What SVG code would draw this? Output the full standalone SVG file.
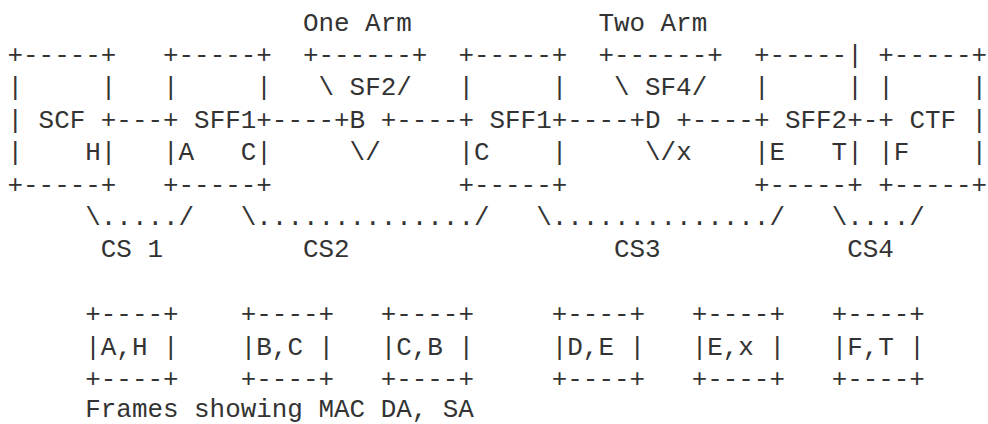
<svg xmlns="http://www.w3.org/2000/svg" width="988" height="424" viewBox="0 0 988 424" xml:space="preserve">
<style>
text{font-family:"Liberation Mono","DejaVu Sans Mono",monospace;font-size:25.92px;fill:#333333;white-space:pre}
</style>
<rect x="0" y="0" width="988" height="424" fill="#ffffff"/>
<g id="arm-labels">
<text x="302.95" y="30.5">One Arm</text>
<text x="598.4" y="30.5">Two Arm</text>
</g>
<g id="scf">
<text x="7.5" y="62.9">+-----+</text>
<text x="7.5" y="95.3">|     |</text>
<text x="7.5" y="127.7">| SCF +</text>
<text x="7.5" y="160.1">|    H|</text>
<text x="7.5" y="192.5">+-----+</text>
</g>
<g id="sff1-a">
<text x="163" y="62.9">+-----+</text>
<text x="163" y="95.3">|     |</text>
<text x="163" y="127.7">+ SFF1+</text>
<text x="163" y="160.1">|A   C|</text>
<text x="163" y="192.5">+-----+</text>
</g>
<g id="sf2">
<text x="302.95" y="62.9">+------+</text>
<text x="318.5" y="95.3">\ SF2/</text>
<text x="349.6" y="127.7">B</text>
<text x="349.6" y="160.1">\/</text>
</g>
<g id="sff1-b">
<text x="458.45" y="62.9">+-----+</text>
<text x="458.45" y="95.3">|     |</text>
<text x="458.45" y="127.7">+ SFF1+</text>
<text x="458.45" y="160.1">|C    |</text>
<text x="458.45" y="192.5">+-----+</text>
</g>
<g id="sf4">
<text x="598.4" y="62.9">+------+</text>
<text x="613.95" y="95.3">\ SF4/</text>
<text x="645.05" y="127.7">D</text>
<text x="645.05" y="160.1">\/x</text>
</g>
<g id="sff2">
<text x="753.9" y="62.9">+-----|</text>
<text x="753.9" y="95.3">|     |</text>
<text x="753.9" y="127.7">+ SFF2+</text>
<text x="753.9" y="160.1">|E   T|</text>
<text x="753.9" y="192.5">+-----+</text>
</g>
<g id="ctf">
<text x="878.3" y="62.9">+-----+</text>
<text x="878.3" y="95.3">|     |</text>
<text x="878.3" y="127.7">+ CTF |</text>
<text x="878.3" y="160.1">|F    |</text>
<text x="878.3" y="192.5">+-----+</text>
</g>
<g id="connectors">
<text x="116.35" y="127.7">---</text>
<text x="271.85" y="127.7">----+</text>
<text x="380.7" y="127.7">+----</text>
<text x="567.3" y="127.7">----+</text>
<text x="676.15" y="127.7">+----</text>
<text x="862.75" y="127.7">-</text>
</g>
<g id="chain-segments">
<text x="85.25" y="224.9">\...../</text>
<text x="240.75" y="224.9">\............../</text>
<text x="536.2" y="224.9">\............../</text>
<text x="831.65" y="224.9">\..../</text>
<text x="100.8" y="257.3">CS 1</text>
<text x="302.95" y="257.3">CS2</text>
<text x="613.95" y="257.3">CS3</text>
<text x="847.2" y="257.3">CS4</text>
</g>
<g id="frame-ah">
<text x="85.25" y="322.1">+----+</text>
<text x="85.25" y="354.5">|A,H |</text>
<text x="85.25" y="386.9">+----+</text>
</g>
<g id="frame-bc">
<text x="240.75" y="322.1">+----+</text>
<text x="240.75" y="354.5">|B,C |</text>
<text x="240.75" y="386.9">+----+</text>
</g>
<g id="frame-cb">
<text x="380.7" y="322.1">+----+</text>
<text x="380.7" y="354.5">|C,B |</text>
<text x="380.7" y="386.9">+----+</text>
</g>
<g id="frame-de">
<text x="551.75" y="322.1">+----+</text>
<text x="551.75" y="354.5">|D,E |</text>
<text x="551.75" y="386.9">+----+</text>
</g>
<g id="frame-ex">
<text x="691.7" y="322.1">+----+</text>
<text x="691.7" y="354.5">|E,x |</text>
<text x="691.7" y="386.9">+----+</text>
</g>
<g id="frame-ft">
<text x="831.65" y="322.1">+----+</text>
<text x="831.65" y="354.5">|F,T |</text>
<text x="831.65" y="386.9">+----+</text>
</g>
<g id="caption">
<text x="85.25" y="416.5">Frames showing MAC DA, SA</text>
</g>
</svg>
